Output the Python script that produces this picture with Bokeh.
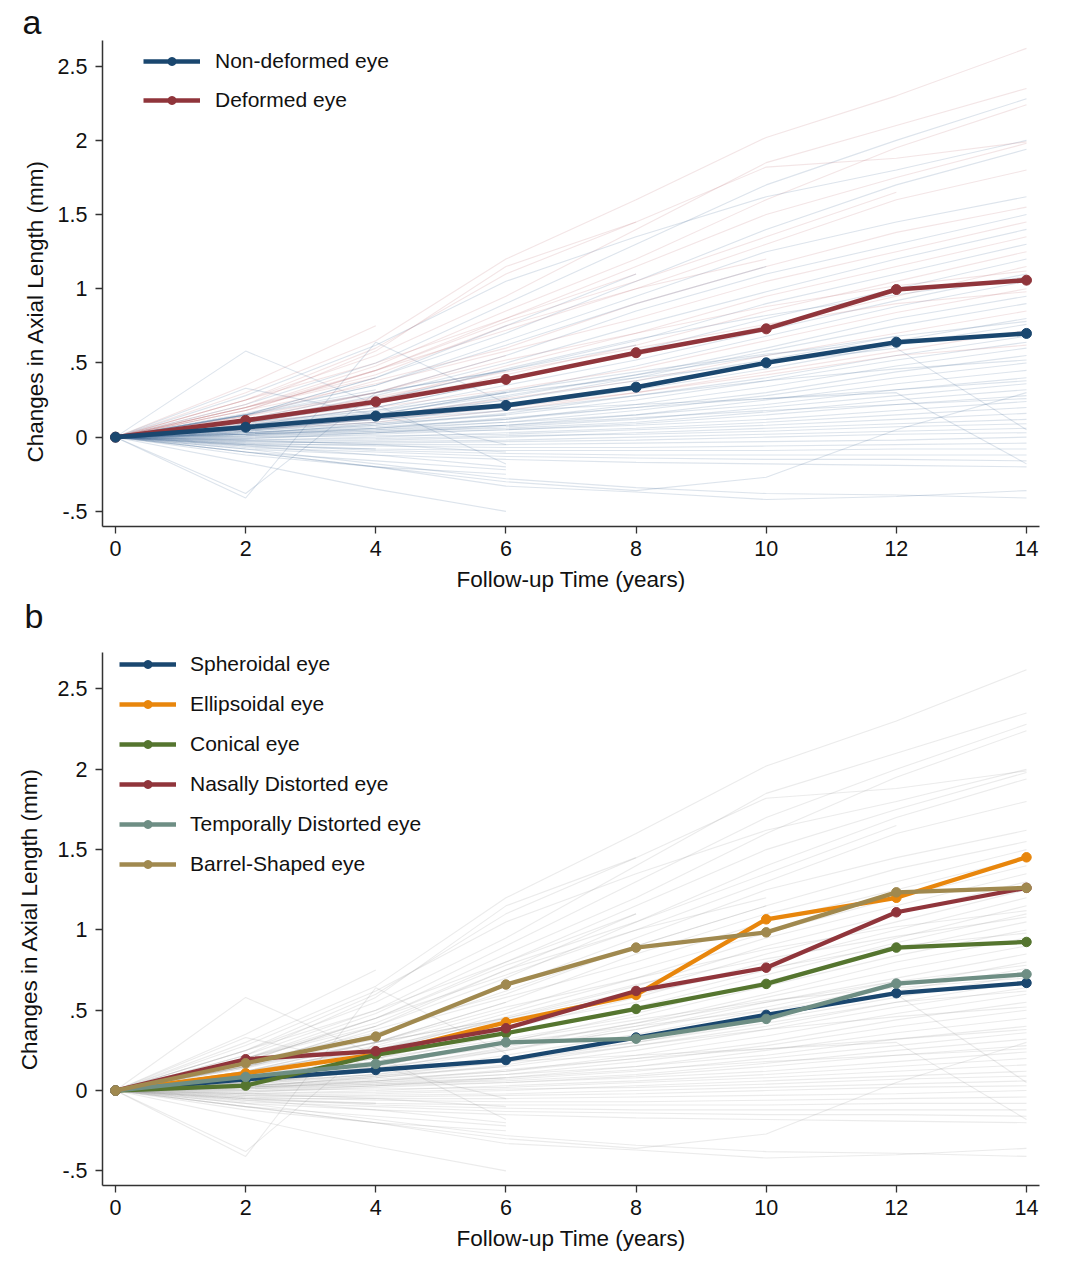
from bokeh.plotting import figure
from bokeh.models import Legend, LegendItem, FixedTicker, Range1d, Title
from bokeh.layouts import column
from bokeh.embed import file_html
from bokeh.resources import INLINE

# ---------------- data ----------------
years = [0, 2, 4, 6, 8, 10, 12, 14]
x_ticks = [0, 2, 4, 6, 8, 10, 12, 14]
y_ticks = [-0.5, 0, 0.5, 1, 1.5, 2, 2.5]
y_tick_labels = ["-.5", "0", ".5", "1", "1.5", "2", "2.5"]

# panel a: group means
nondeformed = [0, 0.067, 0.142, 0.214, 0.337, 0.501, 0.640, 0.699]
deformed = [0, 0.113, 0.238, 0.389, 0.569, 0.730, 0.995, 1.058]

# panel b: shape means
spheroidal = [0, 0.070, 0.128, 0.190, 0.330, 0.471, 0.606, 0.670]
ellipsoidal = [0, 0.108, 0.225, 0.425, 0.595, 1.066, 1.200, 1.452]
conical = [0, 0.031, 0.222, 0.357, 0.508, 0.664, 0.890, 0.925]
nasally = [0, 0.195, 0.245, 0.388, 0.620, 0.765, 1.110, 1.262]
temporally = [0, 0.085, 0.166, 0.300, 0.323, 0.446, 0.666, 0.724]
barrel = [0, 0.170, 0.336, 0.660, 0.890, 0.985, 1.234, 1.262]

# individual eyes (background trajectories)
bg_changes = [
    [0, 0.30, 0.65, 1.20, 1.60, 2.02, 2.30, 2.62],
    [0, 0.25, 0.55, 0.95, 1.40, 1.85, 2.10, 2.35],
    [0, 0.22, 0.50, 0.90, 1.30, 1.70, 2.00, 2.28],
    [0, 0.20, 0.48, 0.85, 1.20, 1.60, 1.95, 2.24],
    [0, 0.28, 0.62, 1.05, 1.35, 1.62, 1.80, 2.00],
    [0, 0.18, 0.45, 0.80, 1.15, 1.50, 1.75, 1.98],
    [0, 0.15, 0.40, 0.70, 1.05, 1.40, 1.70, 1.94],
    [0, 0.20, 0.42, 0.75, 1.00, 1.30, 1.60, 1.80],
    [0, 0.25, 0.60, 1.10, 1.45, 1.82, 1.88, 1.99],
    [0, 0.16, 0.35, 0.65, 0.95, 1.25, 1.45, 1.62],
    [0, 0.14, 0.38, 0.60, 0.90, 1.15, 1.38, 1.55],
    [0, 0.12, 0.30, 0.55, 0.85, 1.10, 1.30, 1.50],
    [0, 0.18, 0.36, 0.58, 0.80, 1.05, 1.25, 1.45],
    [0, 0.10, 0.28, 0.50, 0.75, 0.98, 1.20, 1.40],
    [0, 0.12, 0.25, 0.48, 0.70, 0.95, 1.15, 1.35],
    [0, 0.15, 0.30, 0.45, 0.65, 0.90, 1.10, 1.30],
    [0, 0.10, 0.22, 0.42, 0.62, 0.85, 1.05, 1.25],
    [0, 0.08, 0.20, 0.38, 0.58, 0.80, 1.00, 1.20],
    [0, 0.12, 0.26, 0.40, 0.55, 0.75, 0.95, 1.15],
    [0, 0.10, 0.18, 0.35, 0.52, 0.72, 0.92, 1.10],
    [0, 0.06, 0.15, 0.30, 0.48, 0.68, 0.88, 1.05],
    [0, 0.09, 0.20, 0.32, 0.46, 0.65, 0.84, 1.00],
    [0, 0.08, 0.16, 0.28, 0.42, 0.60, 0.80, 0.95],
    [0, 0.05, 0.12, 0.25, 0.40, 0.58, 0.75, 0.90],
    [0, 0.07, 0.14, 0.26, 0.38, 0.55, 0.70, 0.85],
    [0, 0.04, 0.10, 0.22, 0.35, 0.50, 0.65, 0.80],
    [0, 0.06, 0.12, 0.20, 0.32, 0.46, 0.62, 0.76],
    [0, 0.05, 0.10, 0.18, 0.30, 0.44, 0.58, 0.72],
    [0, 0.03, 0.08, 0.16, 0.28, 0.40, 0.55, 0.68],
    [0, 0.04, 0.09, 0.15, 0.25, 0.38, 0.52, 0.64],
    [0, 0.06, 0.12, 0.20, 0.30, 0.42, 0.55, 0.62],
    [0, 0.02, 0.06, 0.12, 0.22, 0.34, 0.48, 0.60],
    [0, 0.03, 0.07, 0.12, 0.20, 0.30, 0.44, 0.55],
    [0, 0.02, 0.05, 0.10, 0.18, 0.28, 0.40, 0.50],
    [0, 0.01, 0.04, 0.08, 0.15, 0.25, 0.36, 0.45],
    [0, 0.03, 0.06, 0.10, 0.15, 0.22, 0.32, 0.40],
    [0, 0.00, 0.03, 0.07, 0.12, 0.20, 0.28, 0.36],
    [0, 0.02, 0.04, 0.06, 0.10, 0.17, 0.25, 0.32],
    [0, -0.01, 0.02, 0.05, 0.09, 0.15, 0.22, 0.28],
    [0, 0.01, 0.03, 0.05, 0.08, 0.12, 0.18, 0.24],
    [0, -0.02, 0.00, 0.03, 0.06, 0.10, 0.15, 0.20],
    [0, 0.00, 0.01, 0.02, 0.05, 0.08, 0.12, 0.16],
    [0, -0.03, -0.02, 0.00, 0.03, 0.06, 0.09, 0.12],
    [0, -0.02, -0.01, 0.01, 0.02, 0.04, 0.07, 0.09],
    [0, -0.04, -0.03, -0.02, 0.00, 0.02, 0.04, 0.06],
    [0, -0.03, -0.04, -0.03, -0.02, 0.00, 0.02, 0.03],
    [0, -0.05, -0.05, -0.05, -0.04, -0.03, -0.02, 0.00],
    [0, -0.04, -0.06, -0.07, -0.07, -0.06, -0.05, -0.04],
    [0, -0.06, -0.08, -0.09, -0.09, -0.09, -0.08, -0.08],
    [0, -0.05, -0.09, -0.11, -0.12, -0.12, -0.12, -0.12],
    [0, -0.07, -0.10, -0.13, -0.14, -0.15, -0.15, -0.16],
    [0, -0.08, -0.12, -0.15, -0.17, -0.18, -0.19, -0.20],
    [0, -0.10, -0.20, -0.33, -0.37, -0.42, -0.40, -0.36],
    [0, -0.08, -0.18, -0.28, -0.34, -0.38, -0.39, -0.41],
    [0, -0.10, -0.20, -0.30, -0.36, -0.27, 0.05, 0.30],
    [0, 0.05, 0.12, 0.18, 0.22, 0.26, 0.30, -0.18],
    [0, 0.08, 0.18, 0.30, 0.40, 0.50, 0.60, 0.05],
    [0, 0.35, 0.75],
    [0, 0.58, 0.22, -0.18],
    [0, -0.41, 0.64, 0.23],
    [0, -0.38, 0.30, 0.45, 0.62],
    [0, 0.33, 0.15, -0.05],
    [0, -0.17, -0.35, -0.50],
    [0, -0.12, -0.20, -0.25],
    [0, -0.10, -0.16, -0.22],
    [0, -0.06, -0.12, -0.20],
    [0, 0.20, 0.45, 0.72, 1.00, 1.20],
    [0, 0.15, 0.40, 0.75, 1.10],
    [0, 0.12, 0.30, 0.55],
    [0, 0.10, 0.25, 0.45],
    [0, 0.08, 0.20, 0.38],
    [0, 0.05, 0.15, 0.30],
    [0, 0.03, 0.08, 0.15],
    [0, 0.02, 0.05, 0.08],
    [0, -0.02, -0.05, -0.10],
    [0, 0.20, 0.40],
    [0, 0.15, 0.32],
    [0, 0.10, 0.22],
    [0, 0.05, 0.10],
    [0, -0.05, -0.08],
    [0, 0.18, 0.45, 0.78, 1.05, 1.35, 1.65],
    [0, 0.15, 0.35, 0.62, 0.90, 1.15],
    [0, 0.25, 0.50, 0.80, 1.10],
    [0, 0.06, 0.14, 0.25, 0.38, 0.52, 0.68],
    [0, 0.22, 0.58, 1.15, 1.45],
    [0, 0.14, 0.30, 0.52, 0.70, 0.88, 1.02, 1.12],
    [0, 0.09, 0.24, 0.46, 0.66, 0.82, 0.96, 1.08],
    [0, 0.11, 0.27, 0.44, 0.60, 0.76, 0.90, 0.98],
    [0, 0.04, 0.13, 0.27, 0.42, 0.55, 0.68, 0.78],
    [0, 0.07, 0.17, 0.31, 0.44, 0.56, 0.64, 0.70],
    [0, 0.02, 0.09, 0.18, 0.28, 0.38, 0.46, 0.52],
    [0, 0.01, 0.06, 0.13, 0.20, 0.26, 0.32, 0.38],
    [0, -0.01, 0.03, 0.08, 0.13, 0.18, 0.22, 0.26],
]
bg_group = [
    "D", "D", "N", "D", "N", "D", "N", "D", "D", "N", "D", "N", "D", "N", "D", "N",
    "D", "N", "D", "N", "N", "D", "N", "N", "D", "N", "N", "D", "N", "N", "D", "N",
    "N", "N", "N", "N", "N", "N", "N", "N", "N", "N", "N", "N", "N", "N", "N", "N",
    "N", "N", "N", "N", "N", "N", "N", "N", "N", "D", "N", "N", "N", "N", "N", "N",
    "N", "N", "D", "N", "D", "N", "N", "N", "N", "N", "N", "D", "N", "N", "N", "N",
    "D", "N", "D", "N", "D", "D", "N", "D", "N", "N", "N", "N", "N",
]

FONT = "Liberation Sans"
NAVY = "#1a476f"
MAROON = "#90353b"
ORANGE = "#e8860c"
GREEN = "#55752f"
TEAL = "#6e8e84"
KHAKI = "#a0894f"
TXT = "#111111"


def make_fig(frame_h, top_b, bottom_b, y_lo, y_hi, y_title):
    p = figure(frame_width=937, frame_height=frame_h,
               x_range=Range1d(-0.2, 14.2), y_range=Range1d(y_lo, y_hi),
               output_backend="svg", toolbar_location=None,
               min_border_left=102, min_border_right=33,
               min_border_top=top_b, min_border_bottom=bottom_b)
    p.title.visible = False
    p.xgrid.visible = False
    p.ygrid.visible = False
    p.outline_line_color = None
    p.background_fill_color = "white"
    p.xaxis.ticker = FixedTicker(ticks=x_ticks)
    p.yaxis.ticker = FixedTicker(ticks=y_ticks)
    p.yaxis.major_label_overrides = {t: s for t, s in zip(y_ticks, y_tick_labels)}
    p.xaxis.axis_label = "Follow-up Time (years)"
    if y_title:
        p.yaxis.axis_label = "Changes in Axial Length (mm)"
    for ax in (p.xaxis[0], p.yaxis[0]):
        ax.major_label_text_font = FONT
        ax.major_label_text_font_size = "21.5px"
        ax.major_label_text_color = TXT
        ax.axis_label_text_font = FONT
        ax.axis_label_text_font_size = "22.5px"
        ax.axis_label_text_font_style = "normal"
        ax.axis_label_text_color = TXT
        ax.minor_tick_line_color = None
        ax.major_tick_in = 0
        ax.major_tick_out = 7
        ax.major_tick_line_color = "#333333"
        ax.major_tick_line_width = 1.3
        ax.axis_line_color = "#333333"
        ax.axis_line_width = 1.5
    p.xaxis.major_label_standoff = 7
    p.yaxis.major_label_standoff = 8
    p.xaxis.axis_label_standoff = 8
    p.yaxis.axis_label_standoff = 13
    return p


def panel_letter(text, offset, standoff):
    return Title(text=text, align="left", offset=offset, standoff=standoff,
                 vertical_align="bottom", text_font=FONT, text_font_size="34px",
                 text_font_style="normal", text_color=TXT)


bg_xs = [years[:len(t)] for t in bg_changes]

# ---------------- panel a ----------------
pa = make_fig(486, 33, 66, -0.602, 2.673, False)
pa.add_layout(panel_letter("a", -80, 0), "above")
pa.add_layout(Title(text="Changes in Axial Length (mm)", align="left", offset=64,
                    standoff=14, text_font=FONT, text_font_size="22.5px",
                    text_font_style="normal", text_color=TXT), "left")
# panel b's letter sits in the space under panel a
pa.add_layout(panel_letter("b", -78, 0), "below")
col_a = ["#2d5a88" if g == "N" else "#a8454f" for g in bg_group]
alpha_a = [0.16 if g == "N" else 0.14 for g in bg_group]
pa.multi_line(xs=bg_xs, ys=bg_changes, line_color=col_a, line_alpha=alpha_a, line_width=1.1)

ra_l = pa.line(years, deformed, line_color=MAROON, line_width=4.6)
ra_s = pa.scatter(years, deformed, size=10, color=MAROON)
na_l = pa.line(years, nondeformed, line_color=NAVY, line_width=4.6)
na_s = pa.scatter(years, nondeformed, size=10, color=NAVY)

leg_a = Legend(items=[LegendItem(label="Non-deformed eye", renderers=[na_l, na_s]),
                      LegendItem(label="Deformed eye", renderers=[ra_l, ra_s])],
               location=(41, 414), glyph_width=57, glyph_height=20, label_height=20,
               spacing=15, padding=0, margin=0, border_line_color=None,
               background_fill_alpha=0, label_standoff=15,
               label_text_font=FONT, label_text_font_size="21px", label_text_color=TXT)
pa.add_layout(leg_a)

# ---------------- panel b ----------------
pb = make_fig(533, 18, 70, -0.591, 2.727, True)
pb.multi_line(xs=bg_xs, ys=bg_changes, line_color="#8a8a8a", line_alpha=0.17, line_width=1.1)

series_b = [("Spheroidal eye", spheroidal, NAVY),
            ("Ellipsoidal eye", ellipsoidal, ORANGE),
            ("Conical eye", conical, GREEN),
            ("Nasally Distorted eye", nasally, MAROON),
            ("Temporally Distorted eye", temporally, TEAL),
            ("Barrel-Shaped eye", barrel, KHAKI)]
items_b = []
for name, vals, c in series_b:
    l = pb.line(years, vals, line_color=c, line_width=4.3)
    s = pb.scatter(years, vals, size=9.5, color=c)
    items_b.append(LegendItem(label=name, renderers=[l, s]))

leg_b = Legend(items=items_b, location=(17, 309), glyph_width=57, glyph_height=20,
               label_height=20, spacing=16, padding=0, margin=0, border_line_color=None,
               background_fill_alpha=0, label_standoff=14,
               label_text_font=FONT, label_text_font_size="21px", label_text_color=TXT)
pb.add_layout(leg_b)

layout = column(pa, pb, spacing=0)
open("out.html", "w").write(file_html(layout, INLINE))
